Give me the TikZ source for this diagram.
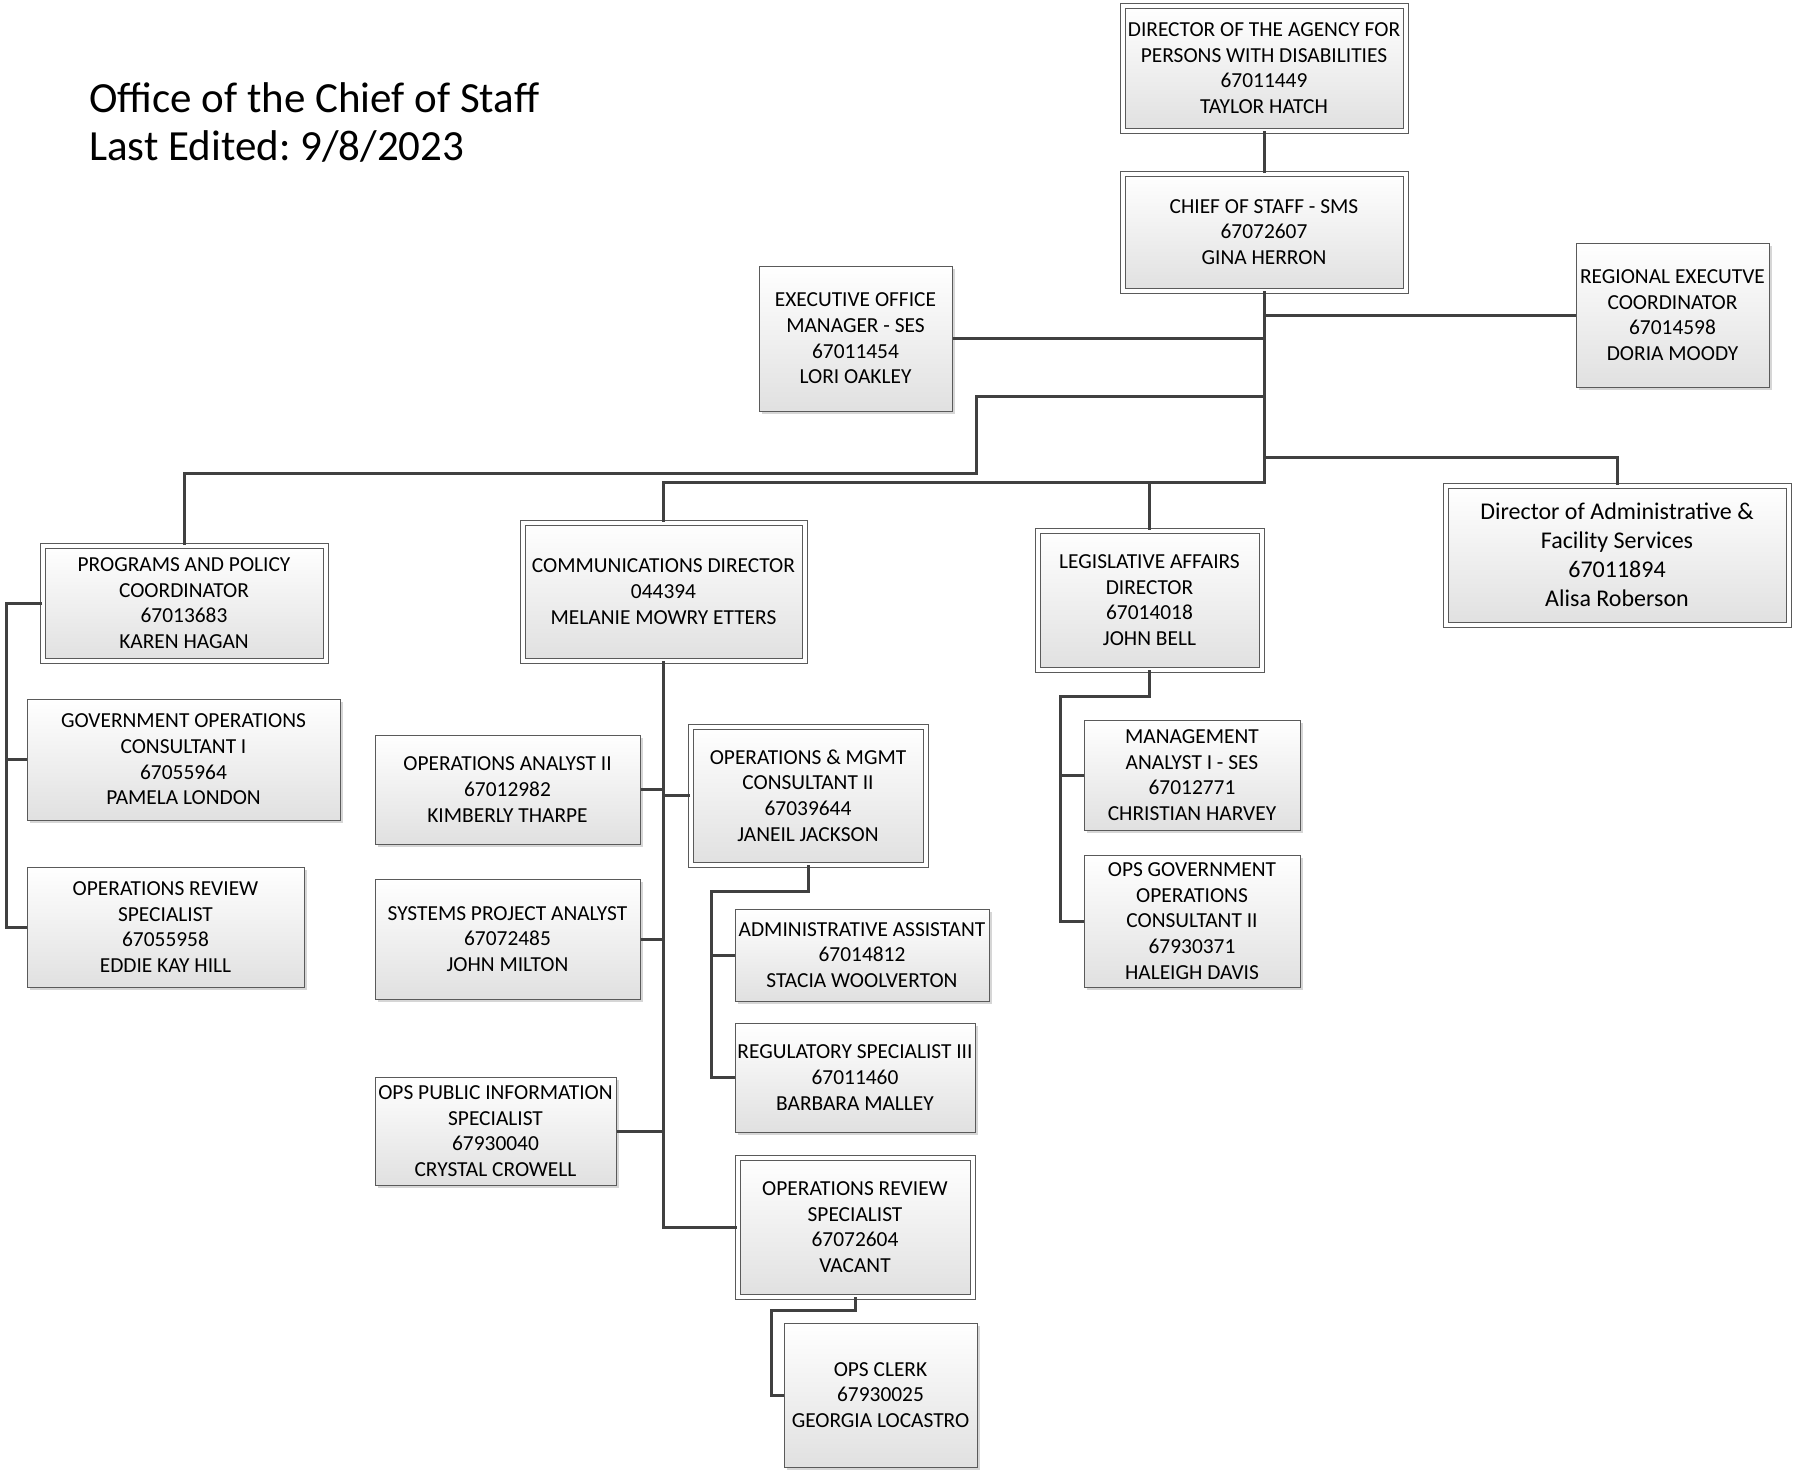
\documentclass[tikz,border=0pt]{standalone}
\usepackage{fontspec}
\setmainfont{Carlito}
\frenchspacing
\usetikzlibrary{shadows}
\definecolor{conncol}{HTML}{404040}
\definecolor{boxline}{HTML}{5A5A5A}
\tikzset{
  orgbox/.style={draw=boxline, line width=1pt, inner sep=0pt, align=center,
    top color=white, bottom color=black!12, shading angle=0,
    font=\fontsize{21.4}{25.7}\selectfont,
    drop shadow={shadow xshift=3pt, shadow yshift=-3pt, fill=black!16, opacity=1}},
  dblbox/.style={orgbox, double=white, double distance=4pt},
  conn/.style={draw=conncol, line width=3pt},
}
\newcommand{\orgS}[6]{\node[orgbox, minimum width=#4pt, minimum height=#5pt] (#1) at (#2,#3) {#6};}
\newcommand{\orgD}[6]{\node[dblbox, minimum width=#4pt-5pt, minimum height=#5pt-5pt] (#1) at (#2,#3) {#6};}
\begin{document}
\begin{tikzpicture}[x=1pt,y=-1pt]
\useasboundingbox[fill=white] (0,0) rectangle (1793,1470);

\node[anchor=base west, inner sep=0pt, font=\fontsize{43}{48}\selectfont] (title1) at (89,112) {Office of the Chief of Staff};
\node[anchor=base west, inner sep=0pt, font=\fontsize{43}{48}\selectfont] (title2) at (89,160) {Last Edited: 9/8/2023};

\coordinate (busA) at (0,482.6);
\coordinate (abus) at (0,457.4);
\coordinate (pbend1) at (976,396.7);
\coordinate (pbend2) at (976,473.4);
\coordinate (plx) at (6,0);
\coordinate (obus) at (711.7,891);
\coordinate (vbus) at (771.7,1310.7);
\coordinate (lbus) at (1060,696.4);

\orgD{director}{1264}{68}{288}{130}{DIRECTOR OF THE AGENCY FOR\\PERSONS WITH DISABILITIES\\67011449\\TAYLOR HATCH}
\orgD{chief}{1264}{232}{288}{122}{CHIEF OF STAFF - SMS\\67072607\\GINA HERRON}
\orgS{eom}{855.5}{338.5}{193}{145}{EXECUTIVE OFFICE\\MANAGER - SES\\67011454\\LORI OAKLEY}
\orgS{regional}{1672.5}{315}{193}{144}{REGIONAL EXECUTVE\\COORDINATOR\\67014598\\DORIA MOODY}
\orgD{programs}{184}{603}{288}{120}{PROGRAMS AND POLICY\\COORDINATOR\\67013683\\KAREN HAGAN}
\orgD{comm}{663.5}{591.5}{287}{143}{COMMUNICATIONS DIRECTOR\\044394\\MELANIE MOWRY ETTERS}
\orgD{legis}{1149.5}{600}{229}{144}{LEGISLATIVE AFFAIRS\\DIRECTOR\\67014018\\JOHN BELL}
\node[dblbox, minimum width=343pt, minimum height=139pt, font=\fontsize{24}{29}\selectfont] (admin) at (1617,555) {Director of Administrative \&\\Facility Services\\67011894\\Alisa Roberson};
\orgS{govops1}{183.5}{759.5}{313}{121}{GOVERNMENT OPERATIONS\\CONSULTANT I\\67055964\\PAMELA LONDON}
\orgS{opsrev1}{165.5}{927}{277}{120}{OPERATIONS REVIEW\\SPECIALIST\\67055958\\EDDIE KAY HILL}
\orgS{analyst}{507.5}{789.5}{265}{109}{OPERATIONS ANALYST II\\67012982\\KIMBERLY THARPE}
\orgS{systems}{507.5}{939}{265}{120}{SYSTEMS PROJECT ANALYST\\67072485\\JOHN MILTON}
\orgS{pubinfo}{495.5}{1131}{241}{108}{OPS PUBLIC INFORMATION\\SPECIALIST\\67930040\\CRYSTAL CROWELL}
\orgD{opsmgmt}{808}{795.5}{240}{143}{OPERATIONS \& MGMT\\CONSULTANT II\\67039644\\JANEIL JACKSON}
\orgS{adminasst}{862}{955}{254}{92}{ADMINISTRATIVE ASSISTANT\\67014812\\STACIA WOOLVERTON}
\orgS{regul}{855}{1077.5}{240}{109}{REGULATORY SPECIALIST III\\67011460\\BARBARA MALLEY}
\orgD{vacant}{855}{1227}{240}{144}{OPERATIONS REVIEW\\SPECIALIST\\67072604\\VACANT}
\orgS{clerk}{880.5}{1395}{193}{144}{OPS CLERK\\67930025\\GEORGIA LOCASTRO}
\orgS{mgmt}{1192}{775}{216}{110}{MANAGEMENT\\ANALYST I - SES\\67012771\\CHRISTIAN HARVEY}
\orgS{opsgov2}{1192}{921}{216}{132}{OPS GOVERNMENT\\OPERATIONS\\CONSULTANT II\\67930371\\HALEIGH DAVIS}

\draw[conn] (director.south) -- (chief.north);
\draw[conn] (chief.south) -- (chief.south |- busA) -| (comm.north);
\draw[conn] (chief.south |- busA) -| (legis.north);
\draw[conn] (chief.south |- abus) -| (admin.north);
\draw[conn] (regional.west) -- (regional.west -| chief.south);
\draw[conn] (eom.east) -- (eom.east -| chief.south);
\draw[conn] (pbend1 -| chief.south) -- (pbend1) -- (pbend2) -| (programs.north);
\draw[conn] (programs.west) -- (programs.west -| plx) -- (plx |- opsrev1.west) -- (opsrev1.west);
\draw[conn] (plx |- govops1.west) -- (govops1.west);
\draw[conn] (comm.south) -- (comm.south |- vacant.west) -- (vacant.west);
\draw[conn] (analyst.east) -- (analyst.east -| comm.south);
\draw[conn] (opsmgmt.west) -- (opsmgmt.west -| comm.south);
\draw[conn] (systems.east) -- (systems.east -| comm.south);
\draw[conn] (pubinfo.east) -- (pubinfo.east -| comm.south);
\draw[conn] (opsmgmt.south) -- (opsmgmt.south |- obus) -- (obus) |- (regul.west);
\draw[conn] (obus |- adminasst.west) -- (adminasst.west);
\draw[conn] (vacant.south) -- (vacant.south |- vbus) -- (vbus) |- (clerk.west);
\draw[conn] (legis.south) -- (legis.south |- lbus) -- (lbus) |- (opsgov2.west);
\draw[conn] (lbus |- mgmt.west) -- (mgmt.west);
\end{tikzpicture}
\end{document}
